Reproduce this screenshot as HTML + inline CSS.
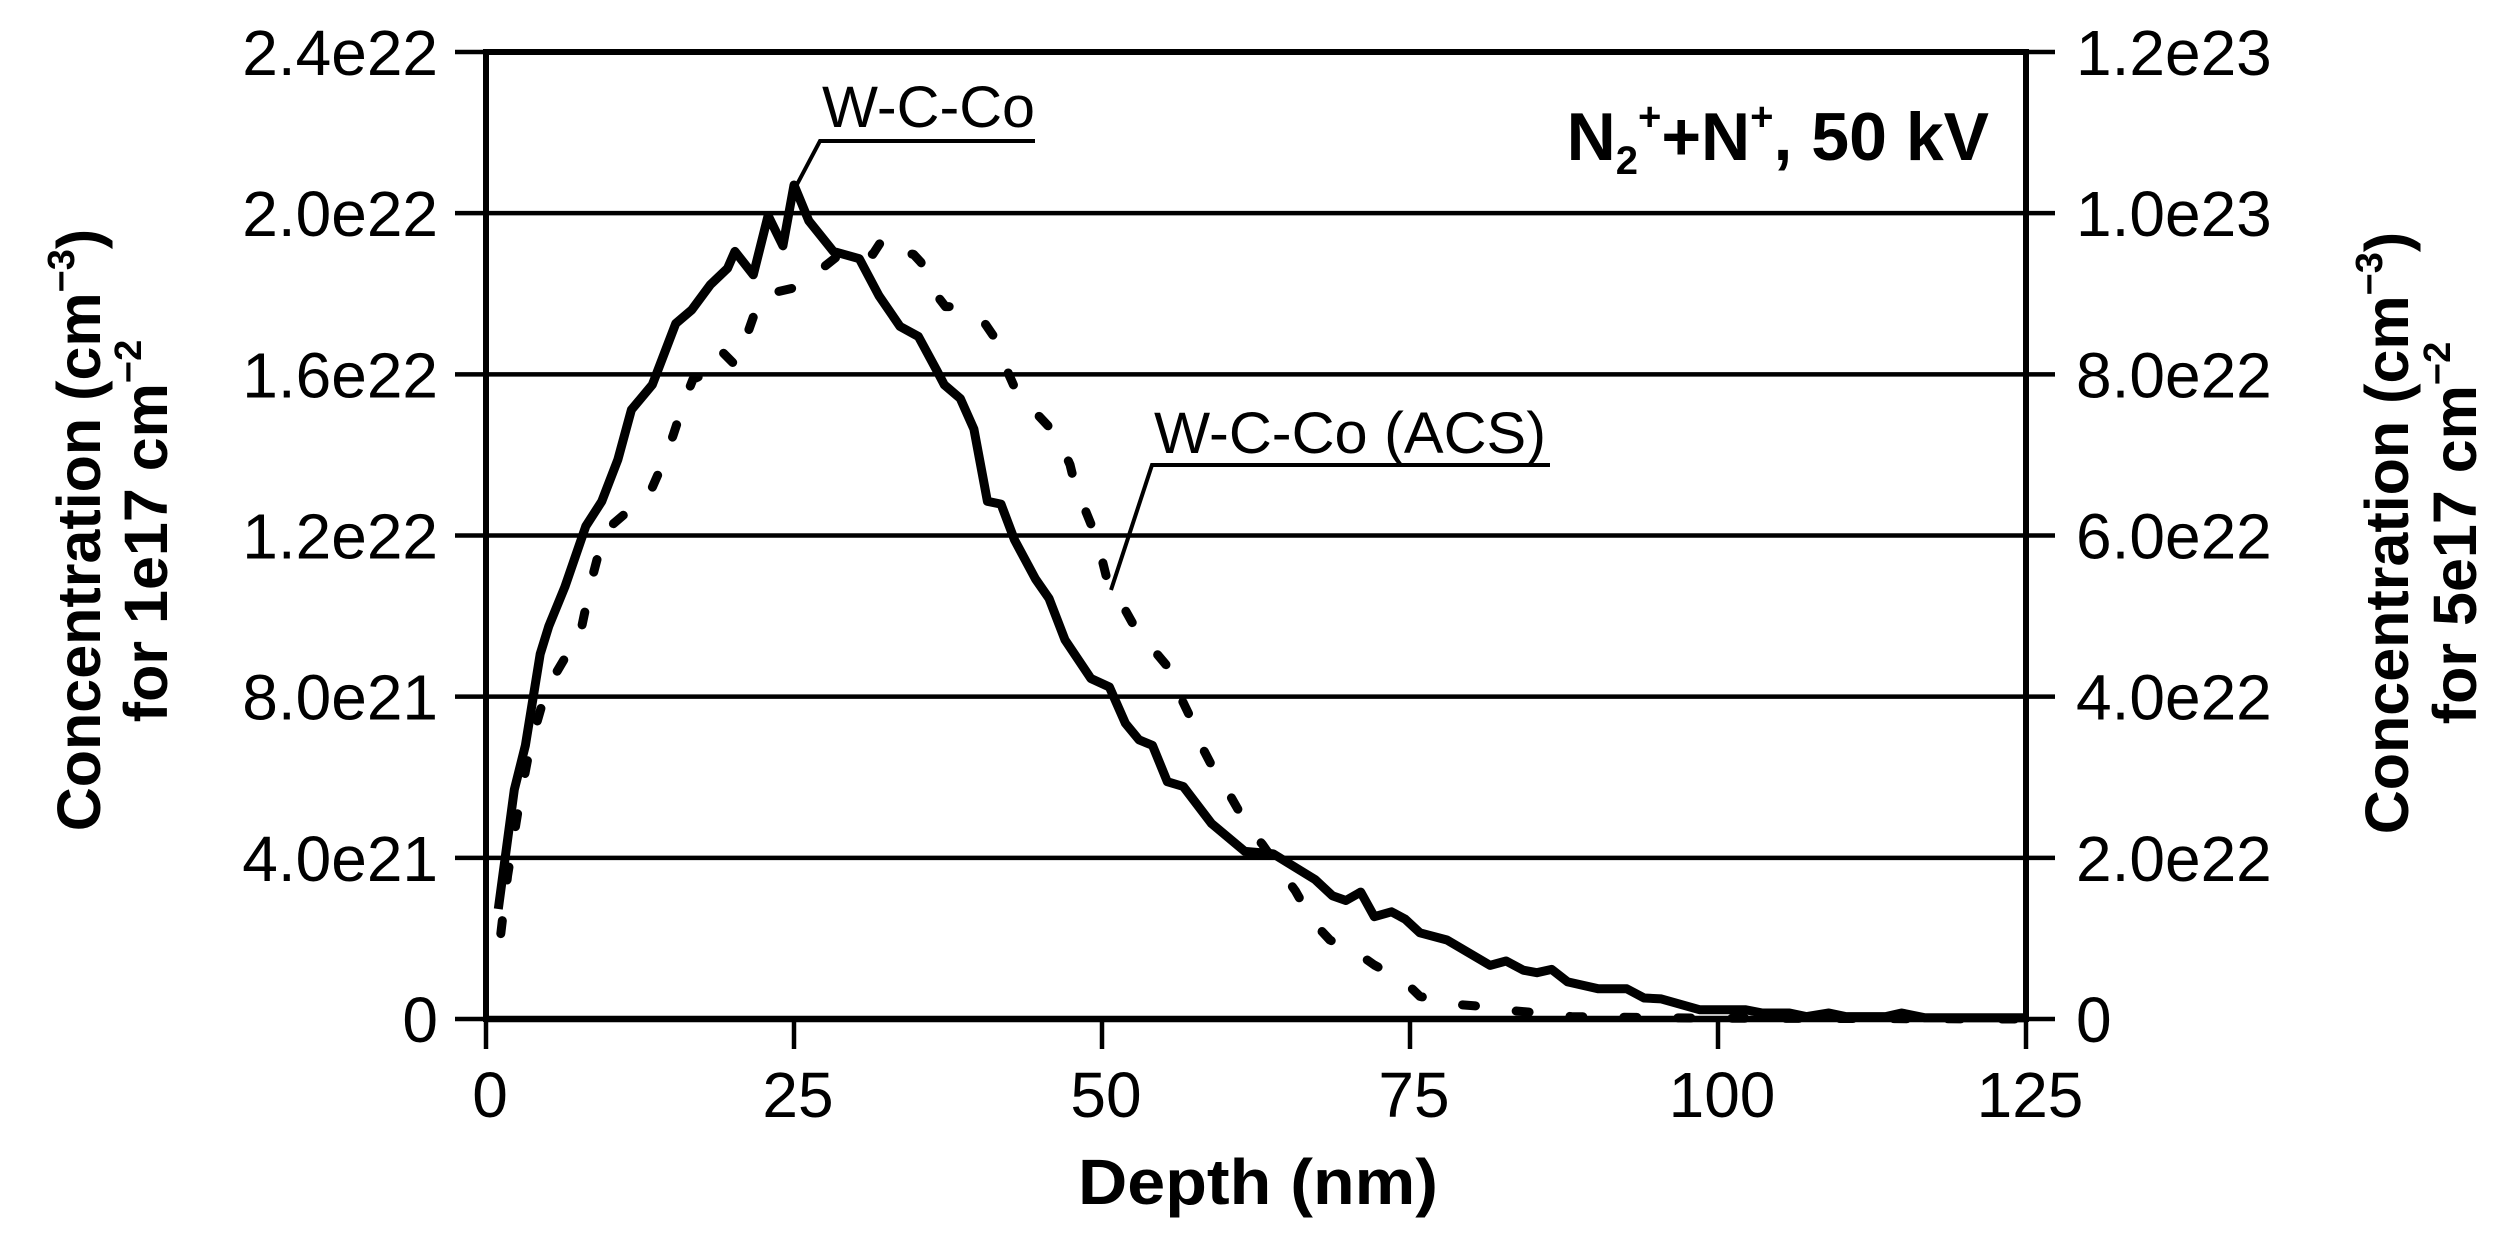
<!DOCTYPE html>
<html><head><meta charset="utf-8"><style>
html,body{margin:0;padding:0;background:#fff;}
svg{display:block;font-family:"Liberation Sans",Arial,sans-serif;}
</style></head><body>
<svg id="chart" width="2502" height="1257" viewBox="0 0 2502 1257" xmlns="http://www.w3.org/2000/svg">
<rect x="0" y="0" width="2502" height="1257" fill="#fff"/>
<g id="grid"></g>
<g id="series"></g>
<g id="axes"></g>
<text x="1258" y="1204" font-size="64" font-weight="bold" text-anchor="middle" textLength="360" lengthAdjust="spacingAndGlyphs">Depth (nm)</text>
<text transform="translate(100,530) rotate(-90)" font-size="61" font-weight="bold" text-anchor="middle">Concentration (cm<tspan font-size="38" dy="-26">−3</tspan><tspan dy="26">)</tspan></text>
<text transform="translate(167,531) rotate(-90)" font-size="61" font-weight="bold" text-anchor="middle">for 1e17 cm<tspan font-size="38" dy="-26">−2</tspan></text>
<text transform="translate(2408,533) rotate(-90)" font-size="61" font-weight="bold" text-anchor="middle">Concentration (cm<tspan font-size="38" dy="-26">−3</tspan><tspan dy="26">)</tspan></text>
<text transform="translate(2476,533) rotate(-90)" font-size="61" font-weight="bold" text-anchor="middle">for 5e17 cm<tspan font-size="38" dy="-26">−2</tspan></text>
<text x="1989" y="160" font-size="68" font-weight="bold" text-anchor="end">N<tspan font-size="40" dy="14">2</tspan><tspan font-size="40" dy="-44">+</tspan><tspan dy="30">+N</tspan><tspan font-size="40" dy="-30">+</tspan><tspan dy="30">, 50 kV</tspan></text>
<text x="822" y="127" font-size="58" textLength="213" lengthAdjust="spacingAndGlyphs">W-C-Co</text>
<polyline points="1035,141 820,141 793,192" fill="none" stroke="#000" stroke-width="4"/>
<text x="1154" y="453" font-size="58" textLength="392" lengthAdjust="spacingAndGlyphs">W-C-Co (ACS)</text>
<polyline points="1550,465 1152,465 1111,590" fill="none" stroke="#000" stroke-width="4"/>
</svg>
<script>
const xTicks = [0, 25, 50, 75, 100, 125];
const leftTicks = [0, 4, 8, 12, 16, 20, 24];            // units of 1e21
const leftTickLabels = ["0","4.0e21","8.0e21","1.2e22","1.6e22","2.0e22","2.4e22"];
const rightTickLabels = ["0","2.0e22","4.0e22","6.0e22","8.0e22","1.0e23","1.2e23"];
const rightMax = 12;                                     // units of 1e22
// W-C-Co (solid, left axis, units 1e21)
const solidDepth = [1.0,2.3,3.2,4.4,5.1,6.4,8.1,9.4,10.7,11.8,13.5,15.4,16.7,18.2,19.6,20.2,21.7,22.9,24.1,25.0,26.2,28.2,30.3,31.9,33.6,35.1,36.6,37.2,38.5,39.6,40.7,41.8,42.9,44.6,45.7,47.0,49.1,50.6,51.9,53.0,54.1,55.3,56.6,58.9,61.6,63.9,67.3,68.7,69.8,71.0,72.1,73.5,74.6,75.8,78.0,81.5,82.8,84.2,85.3,86.5,87.8,90.3,92.6,94.0,95.4,98.5,102.2,103.6,105.8,107.2,109.0,110.4,113.6,114.9,116.8,125];
const solidConc = [2.73,5.69,6.79,9.06,9.75,10.72,12.23,12.85,13.88,15.12,15.74,17.26,17.6,18.22,18.63,19.05,18.47,19.94,19.19,20.7,19.81,19.05,18.87,17.95,17.19,16.94,16.09,15.74,15.4,14.64,12.85,12.78,11.89,10.92,10.44,9.41,8.45,8.24,7.34,6.93,6.79,5.89,5.77,4.85,4.16,4.1,3.46,3.06,2.94,3.15,2.54,2.66,2.48,2.14,1.96,1.33,1.44,1.21,1.15,1.23,0.92,0.75,0.75,0.52,0.5,0.23,0.23,0.15,0.15,0.06,0.15,0.06,0.06,0.15,0.03,0.03];
// W-C-Co (ACS) (dashed, right axis, units 1e22)
const dashDepth = [1.2,1.75,2.7,3.6,4.9,6.6,7.5,8.5,9.6,12.2,13.3,14.6,15.2,16.1,16.8,18.5,19.1,20.2,20.8,21.9,22.4,25.2,26.5,29.3,29.7,31.4,32.3,34.2,34.7,35.3,36.6,37.3,37.9,40.5,41.4,42.4,43.1,45.2,46.3,47.4,47.8,48.9,49.6,50.4,51.1,52.6,53.7,55.4,56.2,57.5,58.0,59.4,60.3,61.9,63.0,64.6,65.7,67.1,68.5,70.8,72.1,74.6,75.8,78.9,80.6,83.5,85.1,88.1,99.4,125];
const dashConc = [1.06,1.78,2.68,3.4,4.09,4.53,4.67,5.4,6.05,6.39,6.53,6.98,7.25,7.67,7.94,8.05,8.29,8.12,8.32,8.8,8.98,9.08,9.22,9.56,9.57,9.49,9.7,9.5,9.49,9.39,8.98,8.84,8.84,8.63,8.43,8.01,7.77,7.43,7.25,6.88,6.63,6.22,5.95,5.46,5.29,4.88,4.67,4.36,4.05,3.64,3.41,3.0,2.8,2.37,2.17,1.82,1.59,1.21,0.98,0.81,0.67,0.46,0.28,0.18,0.16,0.1,0.08,0.03,0.01,0];

const NS = "http://www.w3.org/2000/svg";
const X0 = 486, X1 = 2026, Y0 = 1019, Y1 = 52;
const xS = d => X0 + (d - xTicks[0]) / (xTicks[xTicks.length-1] - xTicks[0]) * (X1 - X0);
const yL = v => Y0 - v / leftTicks[leftTicks.length-1] * (Y0 - Y1);
const yR = v => Y0 - v / rightMax * (Y0 - Y1);
function mk(tag, attrs, parent, txt) {
  const el = document.createElementNS(NS, tag);
  for (const k in attrs) el.setAttribute(k, attrs[k]);
  if (txt !== undefined) el.textContent = txt;
  parent.appendChild(el);
  return el;
}
const grid = document.getElementById('grid');
const axes = document.getElementById('axes');
const series = document.getElementById('series');

leftTicks.forEach((t, i) => {
  const y = yL(t);
  if (i > 0) {
    const g = mk('line', {x1: X0, x2: X1, y1: y, y2: y, stroke: '#000', 'stroke-width': i === leftTicks.length-1 ? 6 : 4.5}, grid);
    
    
  }
  const tl = mk('line', {x1: 455, x2: X0, y1: y, y2: y, stroke: '#000', 'stroke-width': 4.5}, axes);
  
  
  const tr = mk('line', {x1: X1, x2: 2055, y1: y, y2: y, stroke: '#000', 'stroke-width': 4.5}, axes);
  
  
  const lab = mk('text', {x: 438, y: y + 23, 'font-size': 64, 'text-anchor': 'end'}, axes, leftTickLabels[i]);
  
  
  const rlab = mk('text', {x: 2076, y: y + 23, 'font-size': 64, 'text-anchor': 'start'}, axes, rightTickLabels[i]);
  
  
});
xTicks.forEach(t => {
  const x = xS(t);
  const tk = mk('line', {x1: x, x2: x, y1: Y0, y2: 1049, stroke: '#000', 'stroke-width': 4.5}, axes);
  
  
  const lb = mk('text', {x: x + 4, y: 1117, 'font-size': 64, 'text-anchor': 'middle'}, axes, String(t));
  
  
});
const la = mk('line', {x1: X0, x2: X0, y1: Y1 - 3, y2: Y0 + 3, stroke: '#000', 'stroke-width': 6}, axes);


const ra = mk('line', {x1: X1, x2: X1, y1: Y1 - 3, y2: Y0 + 3, stroke: '#000', 'stroke-width': 6}, axes);


const xa = mk('line', {x1: X0, x2: X1, y1: Y0, y2: Y0, stroke: '#000', 'stroke-width': 6.5}, axes);



const dashedPts = dashDepth.map((d, i) => xS(d).toFixed(1) + ',' + yR(dashConc[i]).toFixed(1)).join(' ');
const dl = mk('polyline', {points: dashedPts, fill: 'none', stroke: '#000', 'stroke-width': 9, 'stroke-dasharray': '13 41', 'stroke-linecap': 'round', 'stroke-linejoin': 'round'}, series);


const solidPts = solidDepth.map((d, i) => xS(d).toFixed(1) + ',' + yL(solidConc[i]).toFixed(1)).join(' ');
const sl = mk('polyline', {points: solidPts, fill: 'none', stroke: '#000', 'stroke-width': 9, 'stroke-linejoin': 'round'}, series);


</script>
</body></html>
